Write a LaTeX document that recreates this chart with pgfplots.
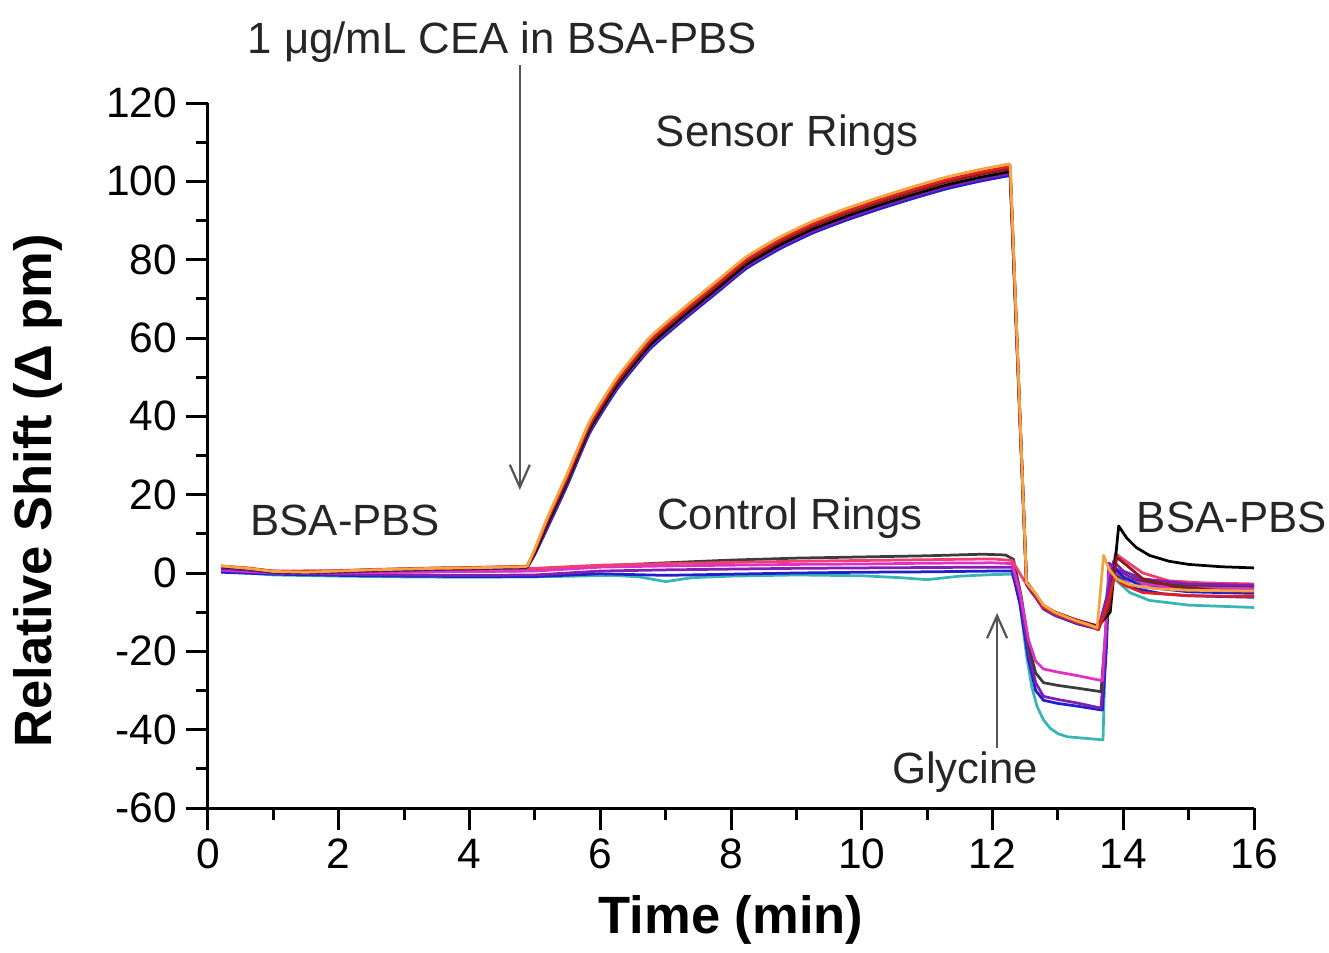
\documentclass[border=0pt]{standalone}
\usepackage{fontspec}
\setmainfont{Liberation Sans}
\setsansfont{Liberation Sans}
\usepackage{pgfplots}
\pgfplotsset{compat=1.18}
\usetikzlibrary{arrows.meta}

\definecolor{cOrange}{RGB}{245,164,66}
\definecolor{cRed}{RGB}{224,32,32}
\definecolor{cBrown}{RGB}{139,26,26}
\definecolor{cBlue}{RGB}{32,32,208}
\definecolor{cPurple}{RGB}{128,32,176}
\definecolor{cMagenta}{RGB}{224,48,200}
\definecolor{cCyan}{RGB}{58,181,181}
\definecolor{cPink}{RGB}{240,64,112}
\definecolor{cGray}{RGB}{60,60,60}
\definecolor{arrowgray}{RGB}{85,85,85}

\begin{document}
\begin{tikzpicture}
\begin{axis}[
    name=ax,
    scale only axis, width=418.4pt, height=282pt,
    xmin=0, xmax=16, ymin=-60, ymax=120,
    axis lines*=left,
    axis line style={line width=1.2pt},
    xtick={0,2,...,16}, ytick={-60,-40,...,120},
    minor x tick num=1, minor y tick num=1,
    tick align=outside,
    major tick length=8.8pt, minor tick length=4.8pt,
    tick style={line width=1.2pt, black},
    /pgf/number format/assume math mode=true,
    ticklabel style={font=\fontsize{17}{20}\selectfont},
    xlabel={Time (min)}, ylabel={Relative Shift (Δ pm)},
    label style={font=\fontsize{21}{25}\selectfont\bfseries},
    xlabel style={at={(axis description cs:0.5,-0.159)}, anchor=center},
    ylabel style={at={(axis description cs:-0.1625,0.45)}, anchor=center},
    clip=false,
    every axis plot/.append style={line width=1.1pt, mark=none, line join=round},
    rise/.style={smooth, tension=0.3},
]
% control rings
\addplot[cCyan] coordinates {(0.2,0.3)(0.6,0)(1,-0.5)(2,-0.8)(3,-1)(4,-1.1)(5,-1)(5.6,-0.8)(6.2,-0.6)(6.6,-1)(7,-2.2)(7.4,-1.2)(8,-0.8)(9,-0.5)(10,-0.7)(10.6,-1.2)(11,-1.7)(11.5,-0.8)(12,-0.4)(12.3,-0.3)(12.4,-5)(12.52,-21)(12.6,-29)(12.68,-34)(12.78,-37.5)(12.88,-39.6)(13.0,-41)(13.14,-41.8)(13.69,-42.6)(13.75,-5)(13.8,0.5)(13.9,-2)(14.1,-5)(14.4,-7)(15,-8.2)(16,-8.8)};
\addplot[cBlue] coordinates {(0.2,0.2)(1,-0.3)(2,-0.6)(3,-0.8)(4,-0.9)(5,-0.9)(6,-0.2)(7,-0.6)(8,-0.3)(9,0)(10,0.2)(11,0.3)(12,0.5)(12.3,0.5)(12.42,-8)(12.55,-22)(12.66,-30)(12.78,-32.5)(13,-33.3)(13.3,-34)(13.68,-35)(13.74,-20)(13.79,1)(13.9,-1)(14.2,-4)(14.6,-5.3)(15,-5.8)(16,-6.2)};
\addplot[cPurple] coordinates {(0.2,0.6)(1,0)(2,-0.3)(3,-0.5)(4,-0.6)(5,-0.5)(6,0.5)(7,0.8)(8,1)(9,1.2)(10,1.3)(11,1.4)(12,1.5)(12.3,1.5)(12.42,-6)(12.55,-20)(12.66,-28)(12.78,-31.5)(13,-32.3)(13.3,-33.2)(13.66,-34.5)(13.73,-18)(13.78,2.5)(13.9,1)(14.1,-1)(14.5,-2.6)(15,-3.3)(16,-3.6)};
\addplot[cGray] coordinates {(0.2,1)(1,0.2)(2,0.2)(3,0.3)(4,0.4)(5,0.6)(6,1.8)(7,2.6)(8,3.3)(9,3.8)(10,4.1)(11,4.4)(11.85,4.8)(12.2,4.6)(12.32,3.5)(12.44,-6)(12.56,-19)(12.66,-25.5)(12.78,-28)(13,-28.7)(13.3,-29.4)(13.66,-30.3)(13.73,-15)(13.79,-1)(13.9,-0.8)(14.1,-1.8)(14.5,-2.8)(15,-3.3)(16,-3.5)};
\addplot[cMagenta] coordinates {(0.2,0.8)(1,0)(2,0)(3,0.2)(4,0.4)(5,0.5)(6,1.5)(7,1.8)(8,2)(9,2.2)(10,2.3)(11,2.5)(12,2.6)(12.3,2.4)(12.42,-5)(12.55,-17)(12.66,-22.5)(12.78,-24.5)(13,-25.3)(13.3,-26.2)(13.68,-27.5)(13.74,-12)(13.79,1.5)(13.9,0)(14.1,-2)(14.5,-3.3)(15,-3.8)(16,-4)};
\addplot[cPink] coordinates {(0.2,1.2)(1,0.5)(2,0.6)(3,0.8)(4,1)(5,1.2)(6,2)(7,2.4)(8,2.7)(9,3)(10,3.2)(11,3.4)(12,3.6)(12.3,3.2)(12.45,-1)(12.6,-5)(12.8,-8.5)(13,-10.5)(13.3,-12)(13.6,-13.5)(13.75,-10)(13.88,5)(14,3.5)(14.3,0)(14.7,-2)(15.2,-2.5)(16,-2.8)};
% sensor rings: baseline, binding (smooth), regeneration
\addplot[cBlue] coordinates {(0.2,1.2)(0.6,0.8)(1,0.1)(1.5,-0.1)(2,0.2)(2.5,0.5)(3,0.7)(3.5,0.9)(4,1)(4.5,1.2)(4.88,1.3)};
\addplot[cBlue, rise] coordinates {(4.88,1.3)(5.0,4.8)(5.2,11.8)(5.49,22.2)(5.84,35.8)(6.26,47)(6.76,57.2)(7.3,65)(7.8,71.8)(8.24,77.8)(8.75,82.8)(9.25,86.8)(9.75,90)(10.28,93)(10.8,95.7)(11.3,98.1)(11.8,100)(12.27,101.5)};
\addplot[cBlue] coordinates {(12.27,101.5)(12.52,-3)(12.65,-6)(12.78,-9.2)(12.95,-10.8)(13.14,-12)(13.3,-13)(13.49,-13.8)(13.62,-14.3)(13.75,-8)(13.85,1.5)(14,-1)(14.3,-3.5)(15,-4.8)(16,-5.2)};
\addplot[cPurple] coordinates {(0.2,1.3)(0.6,0.9)(1,0.2)(1.5,0)(2,0.3)(2.5,0.6)(3,0.8)(3.5,1)(4,1.1)(4.5,1.3)(4.88,1.4)};
\addplot[cPurple, rise] coordinates {(4.88,1.4)(5.0,5.0)(5.2,12.3)(5.49,22.7)(5.84,36.3)(6.26,47.5)(6.76,57.7)(7.3,65.5)(7.8,72.3)(8.24,78.3)(8.75,83.3)(9.25,87.3)(9.75,90.5)(10.28,93.5)(10.8,96.2)(11.3,98.6)(11.8,100.5)(12.27,102)};
\addplot[cPurple] coordinates {(12.27,102)(12.52,-2.8)(12.65,-5.8)(12.78,-9)(12.95,-10.6)(13.14,-11.8)(13.3,-12.8)(13.49,-13.6)(13.62,-14)(13.75,-6)(13.85,3)(14,0.5)(14.3,-1.5)(15,-2.8)(16,-3.1)};
\addplot[black] coordinates {(0.2,1.6)(0.6,1.1)(1,0.3)(1.5,0.1)(2,0.4)(2.5,0.7)(3,0.9)(3.5,1.1)(4,1.2)(4.5,1.4)(4.88,1.5)};
\addplot[black, rise] coordinates {(4.88,1.5)(5.0,5.2)(5.2,12.8)(5.49,23.2)(5.84,36.8)(6.26,48)(6.76,58.2)(7.3,66)(7.8,72.8)(8.24,78.8)(8.75,83.8)(9.25,87.8)(9.75,91)(10.28,94)(10.8,96.7)(11.3,99.1)(11.8,101)(12.27,102.5)};
\addplot[black] coordinates {(12.27,102.5)(12.52,-2.4)(12.65,-5.3)(12.78,-8.5)(12.95,-10.1)(13.14,-11.3)(13.3,-12.3)(13.49,-13.1)(13.62,-13.5)(13.8,-10)(13.93,12)(14.05,9)(14.2,6.5)(14.4,4.5)(14.7,3)(15,2.2)(15.5,1.6)(16,1.3)};
\addplot[cBrown] coordinates {(0.2,1.7)(0.6,1.2)(1,0.4)(1.5,0.2)(2,0.5)(2.5,0.8)(3,1)(3.5,1.2)(4,1.3)(4.5,1.5)(4.88,1.6)};
\addplot[cBrown, rise] coordinates {(4.88,1.6)(5.0,5.6)(5.2,13.5)(5.49,23.9)(5.84,37.5)(6.26,48.7)(6.76,58.9)(7.3,66.7)(7.8,73.5)(8.24,79.5)(8.75,84.5)(9.25,88.5)(9.75,91.7)(10.28,94.7)(10.8,97.4)(11.3,99.8)(11.8,101.7)(12.27,103.2)};
\addplot[cBrown] coordinates {(12.27,103.2)(12.52,-2.2)(12.65,-5.2)(12.78,-8.3)(12.95,-9.9)(13.14,-11.1)(13.3,-12.1)(13.49,-13)(13.62,-13.8)(13.78,-9)(13.9,4)(14.05,2)(14.3,-1.5)(14.8,-3.5)(15.5,-4.5)(16,-4.8)};
\addplot[cRed] coordinates {(0.2,1.8)(0.6,1.3)(1,0.5)(1.5,0.3)(2,0.6)(2.5,0.9)(3,1.1)(3.5,1.3)(4,1.4)(4.5,1.6)(4.88,1.7)};
\addplot[cRed, rise] coordinates {(4.88,1.7)(5.0,5.9)(5.2,13.9)(5.49,24.5)(5.84,38.1)(6.26,49.3)(6.76,59.5)(7.3,67.3)(7.8,74.1)(8.24,80.1)(8.75,85.1)(9.25,89.1)(9.75,92.3)(10.28,95.3)(10.8,98)(11.3,100.4)(11.8,102.3)(12.27,103.8)};
\addplot[cRed] coordinates {(12.27,103.8)(12.52,-2.6)(12.65,-5.6)(12.78,-8.8)(12.95,-10.4)(13.14,-11.6)(13.3,-12.6)(13.49,-13.5)(13.62,-14.5)(13.76,-8)(13.86,-1)(14,-3)(14.3,-5)(15,-5.8)(16,-6)};
\addplot[cOrange] coordinates {(0.2,1.8)(0.6,1.2)(1,0.4)(1.5,0.2)(2,0.5)(2.5,0.8)(3,1)(3.5,1.2)(4,1.3)(4.5,1.5)(4.88,1.6)};
\addplot[cOrange, rise] coordinates {(4.88,1.6)(5.0,6.2)(5.2,14.5)(5.49,25.2)(5.84,38.8)(6.26,50)(6.76,60.2)(7.3,68)(7.8,74.8)(8.24,80.8)(8.75,85.8)(9.25,89.8)(9.75,93)(10.28,96)(10.8,98.7)(11.3,101.1)(11.8,103)(12.27,104.5)};
\addplot[cOrange] coordinates {(12.27,104.5)(12.52,-2.5)(12.65,-5)(12.78,-8.2)(12.95,-10)(13.14,-11.3)(13.3,-12.3)(13.49,-13.3)(13.6,-14)(13.7,4.5)(13.78,1)(13.9,-1.5)(14.1,-3)(14.5,-4)(15,-4.4)(16,-4.6)};

% annotations
\draw[arrowgray, line width=0.9pt, -{Straight Barb[length=9pt,width=8pt]}] (axis cs:4.77,129.7) -- (axis cs:4.77,21.2);
\draw[arrowgray, line width=0.9pt, -{Straight Barb[length=9pt,width=8pt]}] (axis cs:12.07,-44.7) -- (axis cs:12.07,-10.2);
\begin{scope}[every node/.style={font=\fontsize{17.5}{20}\selectfont, text=black!85}]
\node at (axis cs:4.5,135.6) {1 μg/mL CEA in BSA-PBS};
\node at (axis cs:8.86,111.8) {Sensor Rings};
\node at (axis cs:2.1,13.5) {BSA-PBS};
\node at (axis cs:8.9,14) {Control Rings};
\node at (axis cs:15.66,14.3) {BSA-PBS};
\node at (axis cs:11.58,-50.8) {Glycine};
\end{scope}
\end{axis}
\pgfresetboundingbox
\path[use as bounding box] ([shift={(-83.2pt,-57.6pt)}]ax.south west) rectangle ([shift={(448.4pt,323.2pt)}]ax.south west);
\end{tikzpicture}
\end{document}
